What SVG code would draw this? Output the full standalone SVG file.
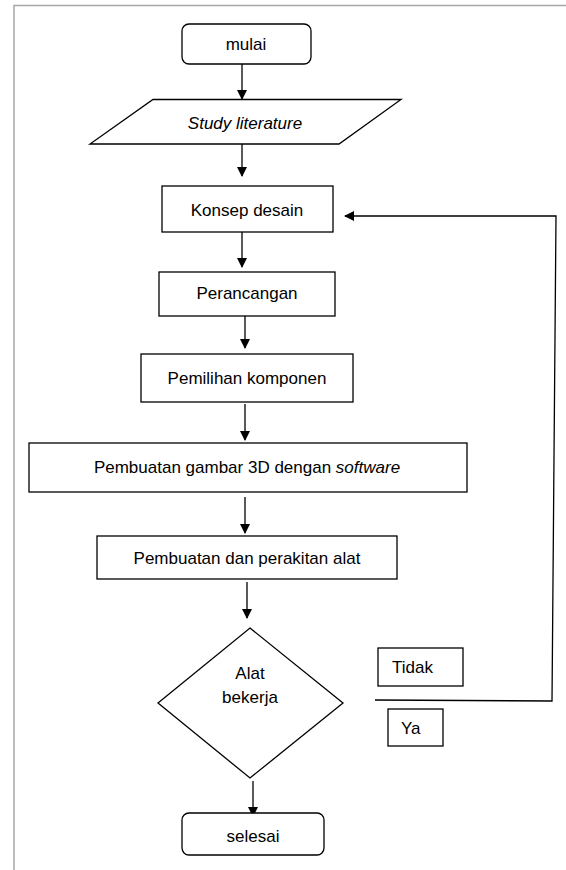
<svg xmlns="http://www.w3.org/2000/svg" width="566" height="870" viewBox="0 0 566 870">
<defs>
<marker id="ah" markerWidth="10" markerHeight="10" refX="9" refY="5" orient="auto" markerUnits="userSpaceOnUse">
<path d="M0,0 L10,5 L0,10 Z" fill="#000"/>
</marker>
<style>
.n{fill:#fff;stroke:#000;stroke-width:1.3}
.t{font-family:"Liberation Sans",Arial,sans-serif;font-size:17px;fill:#000;text-anchor:middle}
.i{font-style:italic}
.c{fill:none;stroke:#000;stroke-width:1.3}
.a{marker-end:url(#ah)}
</style>
</defs>
<rect width="566" height="870" fill="#fff"/>
<path d="M14,870 V5.5 H566" fill="none" stroke="#a6a6a6" stroke-width="1.5"/>
<g id="connectors">
<line class="c a" x1="242" y1="64" x2="242" y2="99"/>
<line class="c a" x1="242" y1="140" x2="242" y2="176"/>
<line class="c a" x1="242" y1="232" x2="242" y2="267"/>
<line class="c a" x1="245" y1="313" x2="245" y2="348"/>
<line class="c a" x1="245" y1="404" x2="245" y2="440"/>
<line class="c a" x1="245" y1="497" x2="245" y2="533"/>
<line class="c a" x1="247" y1="582" x2="247" y2="618"/>
<line class="c a" x1="253" y1="781" x2="253" y2="816"/>
<polyline class="c a" points="375,700 552,701 556,216 345,216"/>
</g>
<g id="mulai"><rect class="n" x="182" y="24" width="129" height="40" rx="7"/><text class="t" x="246" y="50">mulai</text></g>
<g id="study"><polygon class="n" points="153,99.5 401,99.5 339,144 90,144"/><text class="t i" x="245" y="129">Study literature</text></g>
<g id="konsep"><rect class="n" x="162" y="186" width="171" height="46"/><text class="t" x="247" y="216">Konsep desain</text></g>
<g id="perancangan"><rect class="n" x="159" y="272" width="176" height="44"/><text class="t" x="247" y="299">Perancangan</text></g>
<g id="pemilihan"><rect class="n" x="141" y="354" width="212" height="48"/><text class="t" x="247" y="384">Pemilihan komponen</text></g>
<g id="gambar"><rect class="n" x="29" y="443" width="438" height="49"/><text class="t" x="247" y="473">Pembuatan gambar 3D dengan <tspan class="i">software</tspan></text></g>
<g id="perakitan"><rect class="n" x="97" y="536" width="300" height="43"/><text class="t" x="247" y="564">Pembuatan dan perakitan alat</text></g>
<g id="alat"><polygon class="n" points="250,628 343,703 250,778 158,703"/><text class="t" x="250" y="679">Alat</text><text class="t" x="250" y="703">bekerja</text></g>
<g id="tidak"><rect class="n" x="378" y="648" width="85" height="38"/><text class="t" x="392" y="673" style="text-anchor:start">Tidak</text></g>
<g id="ya"><rect class="n" x="388" y="709" width="55" height="37"/><text class="t" x="401" y="734" style="text-anchor:start">Ya</text></g>
<g id="selesai"><rect class="n" x="182" y="813" width="142" height="42" rx="7"/><text class="t" x="253" y="842">selesai</text></g>
</svg>
